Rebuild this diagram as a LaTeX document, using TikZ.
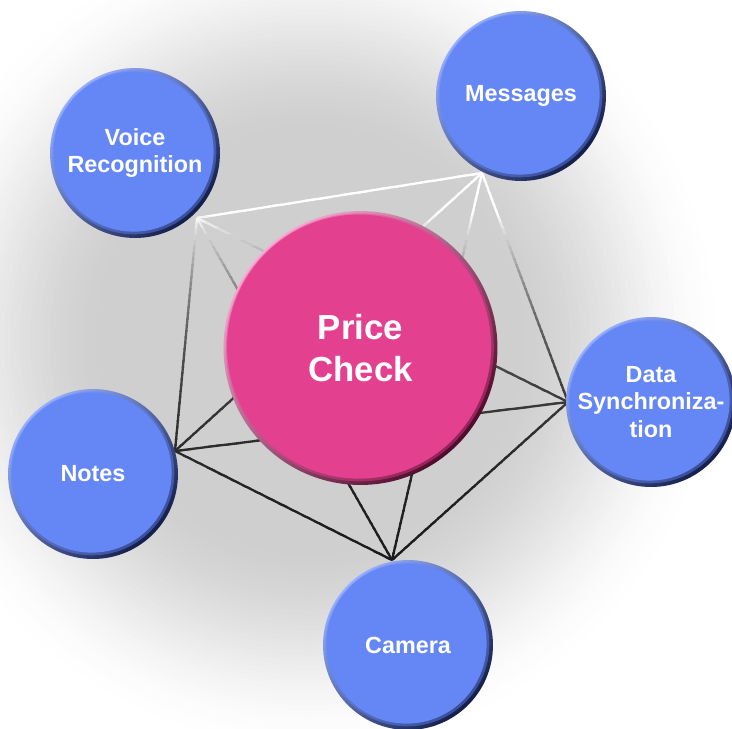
\documentclass[tikz,border=0pt]{standalone}
\usepackage{fontspec}
\usepackage{xcolor}
\usepackage{tikz}
\newfontfamily\labelfont{Liberation Sans}
\usetikzlibrary{calc}

\definecolor{ballblue}{RGB}{100,135,245}
\definecolor{ballbluehi}{RGB}{150,175,255}
\definecolor{ballbluedk}{RGB}{20,30,75}
\definecolor{ballpink}{RGB}{228,64,144}
\definecolor{ballpinkhi}{RGB}{248,170,210}
\definecolor{ballpinkdk}{RGB}{80,10,42}

\begin{document}
\begin{tikzpicture}[x=0.02cm, y=-0.02cm,
    ball/.style n args={4}{circle, inner sep=0pt, minimum size=#1*0.04cm, text=white, align=center,
        path picture={
            \shade[top color=#3, middle color=#2, bottom color=#4, shading angle=45] (path picture bounding box.center) circle (#1);
            \fill[#2, opacity=.45] ($(path picture bounding box.center)+(-0.7,-0.7)$) circle (#1-3);
            \fill[#2] ($(path picture bounding box.center)+(-1.4,-1.4)$) circle (#1-5);
        }},
    blueball/.style={ball={85}{ballblue}{ballbluehi}{ballbluedk}, font=\labelfont\bfseries\fontsize{13.3pt}{15.9pt}\selectfont},
    pinkball/.style={ball={137}{ballpink}{ballpinkhi}{ballpinkdk}, font=\labelfont\bfseries\fontsize{19.8pt}{24.4pt}\selectfont},
    edge/.style={line width=1.3pt}]

    % page and soft shadow
    \useasboundingbox[fill=white] (0,0) rectangle (732,728);
    \begin{scope}
        \clip (0,0) rectangle (732,728);
        \foreach \rr in {420,415,...,200} {
            \pgfmathsetmacro\tt{(\rr-200)/220}
            \pgfmathsetmacro\shadeamt{19*(1-(3*\tt*\tt-2*\tt*\tt*\tt))}
            \fill[black!\shadeamt] (310,340) circle (\rr);
        }
    \end{scope}

    % contact points on the small balls
    \coordinate (vpt) at (197,218);
    \coordinate (mpt) at (482,173);
    \coordinate (dpt) at (568,402);
    \coordinate (cpt) at (392,560);
    \coordinate (npt) at (175,451);

    % every point joined to every other, white at the top, dark at the bottom
    \foreach \yy in {166,172,...,568} {
        \pgfmathsetmacro\shadeamt{max(0, 93*(1-exp(-(\yy-215)/105)))}
        \begin{scope}
            \clip (0,\yy-3.4) rectangle (732,\yy+3.4);
            \foreach \a/\b in {vpt/mpt, vpt/dpt, vpt/cpt, vpt/npt, mpt/dpt, mpt/cpt, mpt/npt, dpt/cpt, dpt/npt, cpt/npt}
                \draw[edge, black!\shadeamt] (\a) -- (\b);
        \end{scope}
    }

    \node[blueball] (voice) at (135,153) {Voice\\Recognition};
    \node[blueball] (messages) at (521,96) {Messages};
    \node[blueball] (datasync) at (651,402) {Data\\Synchroniza-\\tion};
    \node[blueball] (notes) at (93,474) {Notes};
    \node[blueball] (camera) at (408,645) {Camera};
    \node[pinkball] (price) at (360.5,348) {Price\\Check};
\end{tikzpicture}
\end{document}
